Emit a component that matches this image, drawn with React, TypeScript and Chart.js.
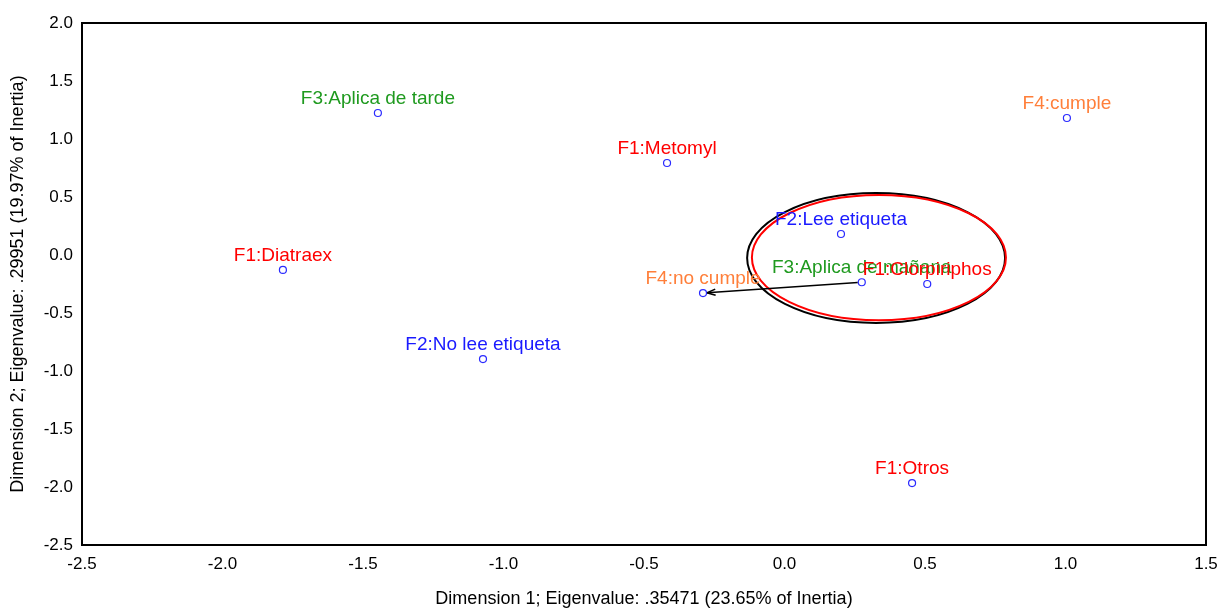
import React, { useEffect, useRef } from "react";
import { Chart, registerables } from "chart.js";

Chart.register(...registerables);

const pointLabels = [
  "F3:Aplica de tarde",
  "F1:Diatraex",
  "F2:No lee etiqueta",
  "F1:Metomyl",
  "F4:no cumple",
  "F2:Lee etiqueta",
  "F3:Aplica de mañana",
  "F1:Clorpiriphos",
  "F4:cumple",
  "F1:Otros",
];
const xValues = [-1.447, -1.785, -1.073, -0.418, -0.29, 0.201, 0.275, 0.508, 1.005, 0.454];
const yValues = [1.224, -0.129, -0.897, 0.793, -0.328, 0.181, -0.235, -0.25, 1.181, -1.966];
const labelGroups = ["F3", "F1", "F2", "F1", "F4", "F2", "F3", "F1", "F4", "F1"];

const xTicks = [-2.5, -2.0, -1.5, -1.0, -0.5, 0.0, 0.5, 1.0, 1.5];
const yTicks = [-2.5, -2.0, -1.5, -1.0, -0.5, 0.0, 0.5, 1.0, 1.5, 2.0];

const xTitle = "Dimension 1; Eigenvalue: .35471 (23.65% of Inertia)";
const yTitle = "Dimension 2; Eigenvalue: .29951 (19.97% of Inertia)";

// annotation: arrow from "F3:Aplica de mañana" to "F4:no cumple"
const arrowFrom = 6;
const arrowTo = 4;
// annotation ellipses (data units): [cx, cy, rx, ry]
const blackEllipse = [0.326, -0.026, 0.459, 0.56];
const redEllipse = [0.336, -0.022, 0.452, 0.54];

const groupColors: Record<string, string> = {
  F1: "#ff0000",
  F2: "#1a1aff",
  F3: "#1f9a1f",
  F4: "#ff7f3a",
};

const FONT = "'Liberation Sans', Arial, sans-serif";

export default function App() {
  const ref = useRef<HTMLCanvasElement | null>(null);

  useEffect(() => {
    document.body.style.margin = "0";
    const canvas = ref.current;
    if (!canvas) return;

    const annotationPlugin = {
      id: "annot",
      beforeDatasetsDraw(chart: any) {
        const ctx = chart.ctx;
        const xs = chart.scales.x;
        const ys = chart.scales.y;
        const drawEllipse = (e: number[], color: string) => {
          const cx = xs.getPixelForValue(e[0]);
          const cy = ys.getPixelForValue(e[1]);
          const rx = Math.abs(xs.getPixelForValue(e[0] + e[2]) - cx);
          const ry = Math.abs(ys.getPixelForValue(e[1] + e[3]) - cy);
          ctx.save();
          ctx.beginPath();
          ctx.ellipse(cx, cy, rx, ry, 0, 0, Math.PI * 2);
          ctx.strokeStyle = color;
          ctx.lineWidth = 2;
          ctx.stroke();
          ctx.restore();
        };
        drawEllipse(blackEllipse, "#000000");
        drawEllipse(redEllipse, "#ff0000");

        // arrow
        const x1 = xs.getPixelForValue(xValues[arrowFrom]);
        const y1 = ys.getPixelForValue(yValues[arrowFrom]);
        const x2 = xs.getPixelForValue(xValues[arrowTo]);
        const y2 = ys.getPixelForValue(yValues[arrowTo]);
        const ang = Math.atan2(y2 - y1, x2 - x1);
        const tx = x2 - Math.cos(ang) * 4;
        const ty = y2 - Math.sin(ang) * 4;
        const sx = x1 + Math.cos(ang) * 4;
        const sy = y1 + Math.sin(ang) * 4;
        ctx.save();
        ctx.strokeStyle = "#000";
        ctx.lineWidth = 1.6;
        ctx.beginPath();
        ctx.moveTo(sx, sy);
        ctx.lineTo(tx, ty);
        ctx.stroke();
        const ah = 9;
        ctx.beginPath();
        ctx.moveTo(tx - Math.cos(ang - 0.35) * ah, ty - Math.sin(ang - 0.35) * ah);
        ctx.lineTo(tx, ty);
        ctx.lineTo(tx - Math.cos(ang + 0.35) * ah, ty - Math.sin(ang + 0.35) * ah);
        ctx.stroke();
        ctx.restore();
      },
      afterDatasetsDraw(chart: any) {
        const ctx = chart.ctx;
        const xs = chart.scales.x;
        const ys = chart.scales.y;
        ctx.save();
        ctx.font = `19px ${FONT}`;
        ctx.textAlign = "center";
        ctx.textBaseline = "alphabetic";
        pointLabels.forEach((lab, i) => {
          const px = xs.getPixelForValue(xValues[i]);
          const py = ys.getPixelForValue(yValues[i]);
          ctx.fillStyle = groupColors[labelGroups[i]];
          ctx.fillText(lab, px, py - 9);
        });
        ctx.restore();
      },
      afterDraw(chart: any) {
        const { left, top, right, bottom } = chart.chartArea;
        const ctx = chart.ctx;
        ctx.save();
        ctx.strokeStyle = "#000";
        ctx.lineWidth = 2;
        ctx.strokeRect(left, top, right - left, bottom - top);
        ctx.restore();
      },
    };

    const chart = new Chart(canvas, {
      type: "scatter",
      data: {
        datasets: [
          {
            data: xValues.map((x, i) => ({ x, y: yValues[i] })),
            pointRadius: 3.5,
            pointHoverRadius: 3.5,
            pointBorderWidth: 1.2,
            pointBorderColor: "#2a2aff",
            pointBackgroundColor: "#ffffff",
          },
        ],
      },
      options: {
        responsive: false,
        animation: false,
        events: [],
        layout: { padding: { top: 23, right: 14, left: 0, bottom: 0 } },
        plugins: {
          legend: { display: false },
          tooltip: { enabled: false },
        },
        scales: {
          x: {
            type: "linear",
            min: -2.5,
            max: 1.5,
            afterBuildTicks: (s: any) => {
              s.ticks = xTicks.map((v) => ({ value: v }));
            },
            afterFit: (s: any) => {
              s.height = 65;
              s.paddingLeft = 0;
              s.paddingRight = 0;
            },
            grid: { display: false, drawTicks: false },
            border: { display: false },
            ticks: {
              padding: 9,
              color: "#000",
              font: { family: FONT, size: 17 },
              maxRotation: 0,
              autoSkip: false,
              callback: (v: any) => Number(v).toFixed(1),
            },
            title: {
              display: true,
              text: xTitle,
              color: "#000",
              font: { family: FONT, size: 18 },
              padding: { top: 0, bottom: 0 },
            },
          },
          y: {
            type: "linear",
            min: -2.5,
            max: 2.0,
            afterBuildTicks: (s: any) => {
              s.ticks = yTicks.map((v) => ({ value: v }));
            },
            afterFit: (s: any) => {
              s.width = 82;
              s.paddingTop = 0;
              s.paddingBottom = 0;
            },
            grid: { display: false, drawTicks: false },
            border: { display: false },
            ticks: {
              padding: 9,
              color: "#000",
              font: { family: FONT, size: 17 },
              autoSkip: false,
              callback: (v: any) => Number(v).toFixed(1),
            },
            title: {
              display: true,
              text: yTitle,
              color: "#000",
              font: { family: FONT, size: 18 },
              padding: { top: 7, bottom: 0 },
            },
          },
        },
      },
      plugins: [annotationPlugin],
    });

    return () => {
      chart.destroy();
    };
  }, []);

  return (
    <div style={{ width: 1220, height: 610 }}>
      <canvas ref={ref} width={1220} height={610} style={{ display: "block" }} />
    </div>
  );
}
